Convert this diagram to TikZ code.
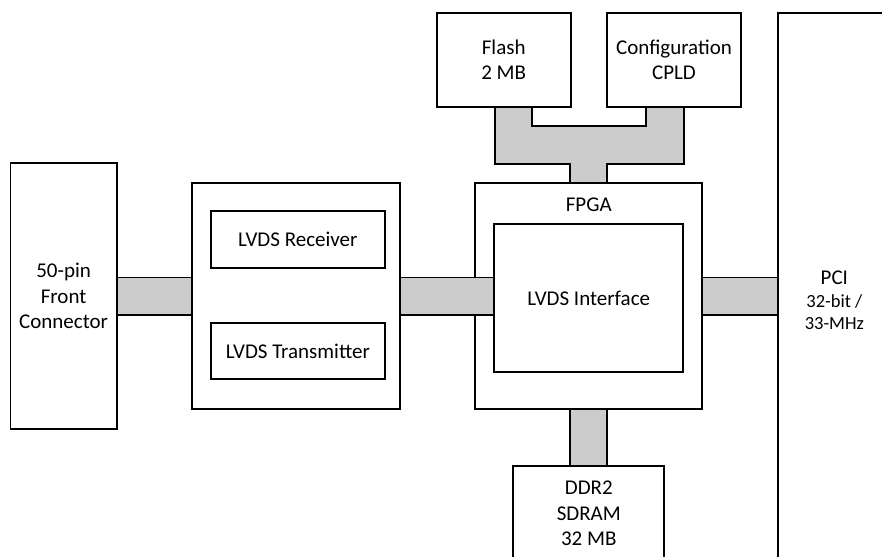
\documentclass[tikz,border=0pt]{standalone}
\usepackage{fontspec}
\setmainfont{Carlito}
\usetikzlibrary{fit}
\definecolor{busgray}{RGB}{204,204,204}
\begin{document}
\begin{tikzpicture}[x=0.75pt,y=-0.75pt,
  box/.style={draw, line width=1.25pt, inner sep=0pt, outer sep=0pt},
  txt/.style={inner sep=0pt, align=center, font=\fontsize{15.75}{18.9}\selectfont},
  bus/.style={draw, line width=1.25pt, fill=busgray, line join=miter}]
\useasboundingbox (0,0) rectangle (882,557);
\clip (0,0) rectangle (882,557);

% blocks
\node[box, fit={(10.5,163.3) (116.7,428.7)}] (front) {};
\node[box, fit={(191.7,182.7) (400,409)}] (lvds) {};
\node[box, fit={(210.7,211) (385,267.7)}] (rx) {};
\node[box, fit={(210.7,322.7) (385,379.3)}] (tx) {};
\node[box, fit={(475.3,182.7) (702.3,409.3)}] (fpga) {};
\node[box, fit={(494.3,224.3) (683.3,372)}] (iface) {};
\node[box, fit={(436.7,12.7) (570.7,107.3)}] (flash) {};
\node[box, fit={(607.3,12.7) (740.7,107.3)}] (cfg) {};
\node[box, fit={(513.3,466) (664.3,560.6)}] (ddr) {};
\node[box, fit={(777.7,12.7) (891,586)}] (pci) {};

% labels
\node[txt] (frontlabel) at (front.center) {50-pin\\Front\\Connector};
\node[txt] (rxlabel) at (rx.center) {LVDS Receiver};
\node[txt] (txlabel) at (tx.center) {LVDS Transmitter};
\node[txt] (fpgalabel) at (fpga.north |- 0,205) {FPGA};
\node[txt] (ifacelabel) at (iface.center) {LVDS Interface};
\node[txt] (flashlabel) at (flash.center) {Flash\\2 MB};
\node[txt] (cfglabel) at (cfg.center) {Configuration\\CPLD};
\node[txt] (ddrlabel) at (ddr.center) {DDR2\\SDRAM\\32 MB};
\node[txt] (pcilabel) at ([yshift=-0.6pt]pci.center) {PCI\\[-1.6pt]
  \fontsize{13.9}{17.5}\selectfont 32-bit /\\[-2pt]
  \fontsize{13.9}{17.5}\selectfont 33-MHz};

% buses
\draw[bus] (front.east |- 0,277.5) rectangle (lvds.west |- 0,315.2);
\draw[bus] (lvds.east |- 0,277.5) rectangle (iface.west |- 0,315.2);
\draw[bus] (fpga.east |- 0,277.5) rectangle (pci.west |- 0,315.2);
\draw[bus] (fpga.south -| 570,0) rectangle (ddr.north -| 607.3,0);
\draw[bus] (flash.south -| 495,0) -- (flash.south -| 532.3,0) -- (532.3,126)
  -- (646,126) -- (cfg.south -| 646,0) -- (cfg.south -| 684,0) -- (684,164)
  -- (607.3,164) -- (fpga.north -| 607.3,0) -- (fpga.north -| 570,0)
  -- (570,164) -- (495,164) -- cycle;
\end{tikzpicture}
\end{document}
